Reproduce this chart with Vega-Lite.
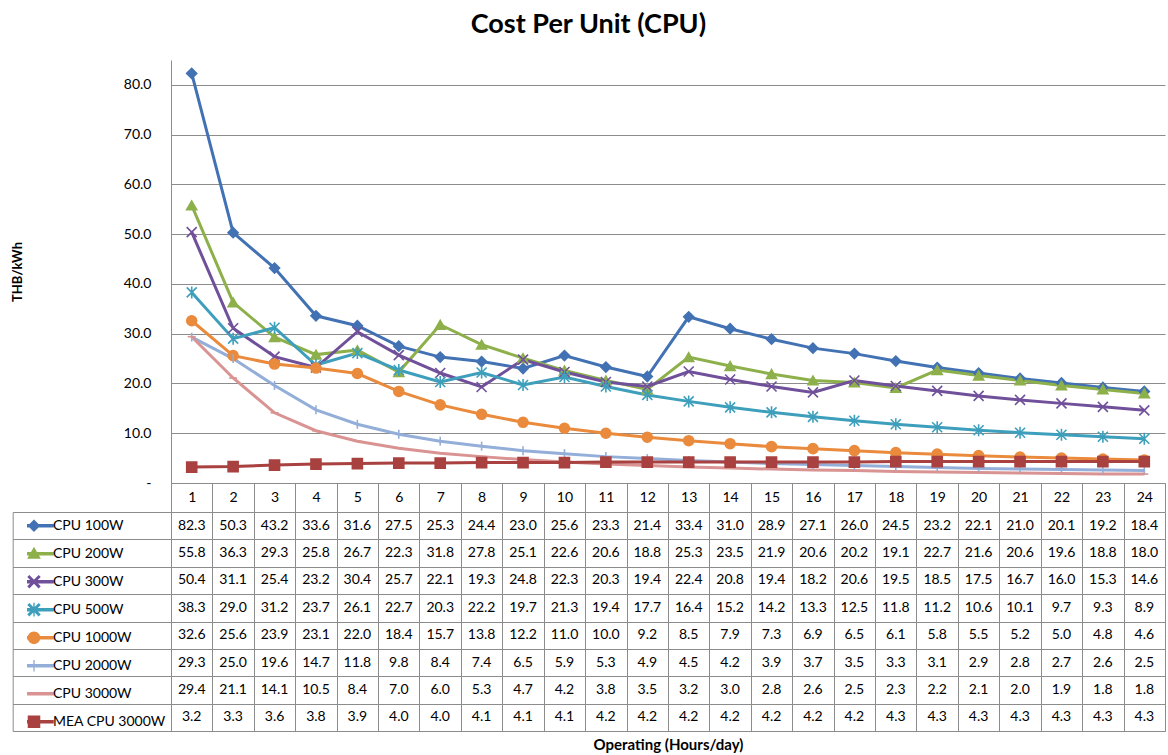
{
"$schema":"https://vega.github.io/schema/vega-lite/v6.json",
"padding":{"left":11,"right":3,"top":11,"bottom":4},
"title":{"text":"Cost Per Unit (CPU)","font":"Lato","fontSize":27,"fontWeight":"bold","color":"#000","anchor":"middle","frame":"bounds","offset":21},
"config":{"font":"Lato","view":{"stroke":null},"axis":{"labelFont":"Lato","titleFont":"Lato","labelColor":"#000","titleColor":"#000"}},
"bounds":"flush",
"spacing":29,
"resolve":{"scale":{"color":"independent","shape":"independent","fill":"independent"}},
"datasets":{"cost":[
{"series":"CPU 100W","hour":1,"value":82.3},{"series":"CPU 100W","hour":2,"value":50.3},{"series":"CPU 100W","hour":3,"value":43.2},{"series":"CPU 100W","hour":4,"value":33.6},{"series":"CPU 100W","hour":5,"value":31.6},{"series":"CPU 100W","hour":6,"value":27.5},{"series":"CPU 100W","hour":7,"value":25.3},{"series":"CPU 100W","hour":8,"value":24.4},{"series":"CPU 100W","hour":9,"value":23.0},{"series":"CPU 100W","hour":10,"value":25.6},{"series":"CPU 100W","hour":11,"value":23.3},{"series":"CPU 100W","hour":12,"value":21.4},{"series":"CPU 100W","hour":13,"value":33.4},{"series":"CPU 100W","hour":14,"value":31.0},{"series":"CPU 100W","hour":15,"value":28.9},{"series":"CPU 100W","hour":16,"value":27.1},{"series":"CPU 100W","hour":17,"value":26.0},{"series":"CPU 100W","hour":18,"value":24.5},{"series":"CPU 100W","hour":19,"value":23.2},{"series":"CPU 100W","hour":20,"value":22.1},{"series":"CPU 100W","hour":21,"value":21.0},{"series":"CPU 100W","hour":22,"value":20.1},{"series":"CPU 100W","hour":23,"value":19.2},{"series":"CPU 100W","hour":24,"value":18.4},
{"series":"CPU 200W","hour":1,"value":55.8},{"series":"CPU 200W","hour":2,"value":36.3},{"series":"CPU 200W","hour":3,"value":29.3},{"series":"CPU 200W","hour":4,"value":25.8},{"series":"CPU 200W","hour":5,"value":26.7},{"series":"CPU 200W","hour":6,"value":22.3},{"series":"CPU 200W","hour":7,"value":31.8},{"series":"CPU 200W","hour":8,"value":27.8},{"series":"CPU 200W","hour":9,"value":25.1},{"series":"CPU 200W","hour":10,"value":22.6},{"series":"CPU 200W","hour":11,"value":20.6},{"series":"CPU 200W","hour":12,"value":18.8},{"series":"CPU 200W","hour":13,"value":25.3},{"series":"CPU 200W","hour":14,"value":23.5},{"series":"CPU 200W","hour":15,"value":21.9},{"series":"CPU 200W","hour":16,"value":20.6},{"series":"CPU 200W","hour":17,"value":20.2},{"series":"CPU 200W","hour":18,"value":19.1},{"series":"CPU 200W","hour":19,"value":22.7},{"series":"CPU 200W","hour":20,"value":21.6},{"series":"CPU 200W","hour":21,"value":20.6},{"series":"CPU 200W","hour":22,"value":19.6},{"series":"CPU 200W","hour":23,"value":18.8},{"series":"CPU 200W","hour":24,"value":18.0},
{"series":"CPU 300W","hour":1,"value":50.4},{"series":"CPU 300W","hour":2,"value":31.1},{"series":"CPU 300W","hour":3,"value":25.4},{"series":"CPU 300W","hour":4,"value":23.2},{"series":"CPU 300W","hour":5,"value":30.4},{"series":"CPU 300W","hour":6,"value":25.7},{"series":"CPU 300W","hour":7,"value":22.1},{"series":"CPU 300W","hour":8,"value":19.3},{"series":"CPU 300W","hour":9,"value":24.8},{"series":"CPU 300W","hour":10,"value":22.3},{"series":"CPU 300W","hour":11,"value":20.3},{"series":"CPU 300W","hour":12,"value":19.4},{"series":"CPU 300W","hour":13,"value":22.4},{"series":"CPU 300W","hour":14,"value":20.8},{"series":"CPU 300W","hour":15,"value":19.4},{"series":"CPU 300W","hour":16,"value":18.2},{"series":"CPU 300W","hour":17,"value":20.6},{"series":"CPU 300W","hour":18,"value":19.5},{"series":"CPU 300W","hour":19,"value":18.5},{"series":"CPU 300W","hour":20,"value":17.5},{"series":"CPU 300W","hour":21,"value":16.7},{"series":"CPU 300W","hour":22,"value":16.0},{"series":"CPU 300W","hour":23,"value":15.3},{"series":"CPU 300W","hour":24,"value":14.6},
{"series":"CPU 500W","hour":1,"value":38.3},{"series":"CPU 500W","hour":2,"value":29.0},{"series":"CPU 500W","hour":3,"value":31.2},{"series":"CPU 500W","hour":4,"value":23.7},{"series":"CPU 500W","hour":5,"value":26.1},{"series":"CPU 500W","hour":6,"value":22.7},{"series":"CPU 500W","hour":7,"value":20.3},{"series":"CPU 500W","hour":8,"value":22.2},{"series":"CPU 500W","hour":9,"value":19.7},{"series":"CPU 500W","hour":10,"value":21.3},{"series":"CPU 500W","hour":11,"value":19.4},{"series":"CPU 500W","hour":12,"value":17.7},{"series":"CPU 500W","hour":13,"value":16.4},{"series":"CPU 500W","hour":14,"value":15.2},{"series":"CPU 500W","hour":15,"value":14.2},{"series":"CPU 500W","hour":16,"value":13.3},{"series":"CPU 500W","hour":17,"value":12.5},{"series":"CPU 500W","hour":18,"value":11.8},{"series":"CPU 500W","hour":19,"value":11.2},{"series":"CPU 500W","hour":20,"value":10.6},{"series":"CPU 500W","hour":21,"value":10.1},{"series":"CPU 500W","hour":22,"value":9.7},{"series":"CPU 500W","hour":23,"value":9.3},{"series":"CPU 500W","hour":24,"value":8.9},
{"series":"CPU 1000W","hour":1,"value":32.6},{"series":"CPU 1000W","hour":2,"value":25.6},{"series":"CPU 1000W","hour":3,"value":23.9},{"series":"CPU 1000W","hour":4,"value":23.1},{"series":"CPU 1000W","hour":5,"value":22.0},{"series":"CPU 1000W","hour":6,"value":18.4},{"series":"CPU 1000W","hour":7,"value":15.7},{"series":"CPU 1000W","hour":8,"value":13.8},{"series":"CPU 1000W","hour":9,"value":12.2},{"series":"CPU 1000W","hour":10,"value":11.0},{"series":"CPU 1000W","hour":11,"value":10.0},{"series":"CPU 1000W","hour":12,"value":9.2},{"series":"CPU 1000W","hour":13,"value":8.5},{"series":"CPU 1000W","hour":14,"value":7.9},{"series":"CPU 1000W","hour":15,"value":7.3},{"series":"CPU 1000W","hour":16,"value":6.9},{"series":"CPU 1000W","hour":17,"value":6.5},{"series":"CPU 1000W","hour":18,"value":6.1},{"series":"CPU 1000W","hour":19,"value":5.8},{"series":"CPU 1000W","hour":20,"value":5.5},{"series":"CPU 1000W","hour":21,"value":5.2},{"series":"CPU 1000W","hour":22,"value":5.0},{"series":"CPU 1000W","hour":23,"value":4.8},{"series":"CPU 1000W","hour":24,"value":4.6},
{"series":"CPU 2000W","hour":1,"value":29.3},{"series":"CPU 2000W","hour":2,"value":25.0},{"series":"CPU 2000W","hour":3,"value":19.6},{"series":"CPU 2000W","hour":4,"value":14.7},{"series":"CPU 2000W","hour":5,"value":11.8},{"series":"CPU 2000W","hour":6,"value":9.8},{"series":"CPU 2000W","hour":7,"value":8.4},{"series":"CPU 2000W","hour":8,"value":7.4},{"series":"CPU 2000W","hour":9,"value":6.5},{"series":"CPU 2000W","hour":10,"value":5.9},{"series":"CPU 2000W","hour":11,"value":5.3},{"series":"CPU 2000W","hour":12,"value":4.9},{"series":"CPU 2000W","hour":13,"value":4.5},{"series":"CPU 2000W","hour":14,"value":4.2},{"series":"CPU 2000W","hour":15,"value":3.9},{"series":"CPU 2000W","hour":16,"value":3.7},{"series":"CPU 2000W","hour":17,"value":3.5},{"series":"CPU 2000W","hour":18,"value":3.3},{"series":"CPU 2000W","hour":19,"value":3.1},{"series":"CPU 2000W","hour":20,"value":2.9},{"series":"CPU 2000W","hour":21,"value":2.8},{"series":"CPU 2000W","hour":22,"value":2.7},{"series":"CPU 2000W","hour":23,"value":2.6},{"series":"CPU 2000W","hour":24,"value":2.5},
{"series":"CPU 3000W","hour":1,"value":29.4},{"series":"CPU 3000W","hour":2,"value":21.1},{"series":"CPU 3000W","hour":3,"value":14.1},{"series":"CPU 3000W","hour":4,"value":10.5},{"series":"CPU 3000W","hour":5,"value":8.4},{"series":"CPU 3000W","hour":6,"value":7.0},{"series":"CPU 3000W","hour":7,"value":6.0},{"series":"CPU 3000W","hour":8,"value":5.3},{"series":"CPU 3000W","hour":9,"value":4.7},{"series":"CPU 3000W","hour":10,"value":4.2},{"series":"CPU 3000W","hour":11,"value":3.8},{"series":"CPU 3000W","hour":12,"value":3.5},{"series":"CPU 3000W","hour":13,"value":3.2},{"series":"CPU 3000W","hour":14,"value":3.0},{"series":"CPU 3000W","hour":15,"value":2.8},{"series":"CPU 3000W","hour":16,"value":2.6},{"series":"CPU 3000W","hour":17,"value":2.5},{"series":"CPU 3000W","hour":18,"value":2.3},{"series":"CPU 3000W","hour":19,"value":2.2},{"series":"CPU 3000W","hour":20,"value":2.1},{"series":"CPU 3000W","hour":21,"value":2.0},{"series":"CPU 3000W","hour":22,"value":1.9},{"series":"CPU 3000W","hour":23,"value":1.8},{"series":"CPU 3000W","hour":24,"value":1.8},
{"series":"MEA CPU 3000W","hour":1,"value":3.2},{"series":"MEA CPU 3000W","hour":2,"value":3.3},{"series":"MEA CPU 3000W","hour":3,"value":3.6},{"series":"MEA CPU 3000W","hour":4,"value":3.8},{"series":"MEA CPU 3000W","hour":5,"value":3.9},{"series":"MEA CPU 3000W","hour":6,"value":4.0},{"series":"MEA CPU 3000W","hour":7,"value":4.0},{"series":"MEA CPU 3000W","hour":8,"value":4.1},{"series":"MEA CPU 3000W","hour":9,"value":4.1},{"series":"MEA CPU 3000W","hour":10,"value":4.1},{"series":"MEA CPU 3000W","hour":11,"value":4.2},{"series":"MEA CPU 3000W","hour":12,"value":4.2},{"series":"MEA CPU 3000W","hour":13,"value":4.2},{"series":"MEA CPU 3000W","hour":14,"value":4.2},{"series":"MEA CPU 3000W","hour":15,"value":4.2},{"series":"MEA CPU 3000W","hour":16,"value":4.2},{"series":"MEA CPU 3000W","hour":17,"value":4.2},{"series":"MEA CPU 3000W","hour":18,"value":4.3},{"series":"MEA CPU 3000W","hour":19,"value":4.3},{"series":"MEA CPU 3000W","hour":20,"value":4.3},{"series":"MEA CPU 3000W","hour":21,"value":4.3},{"series":"MEA CPU 3000W","hour":22,"value":4.3},{"series":"MEA CPU 3000W","hour":23,"value":4.3},{"series":"MEA CPU 3000W","hour":24,"value":4.3}
]},
"vconcat":[
{
"width":994,"height":423,
"data":{"name":"cost"},
"encoding":{
"x":{"field":"hour","type":"ordinal","bandPosition":0.5,"scale":{"type":"band","paddingInner":0,"paddingOuter":0},
"axis":{"title":null,"orient":"bottom","labelAngle":0,"tickBand":"extent","tickSize":29,"tickColor":"#8c8c8c","domainColor":"#8c8c8c","labelFontSize":14,"labelBaseline":"middle","labelPadding":-14.5,"grid":false}},
"y":{"field":"value","type":"quantitative","scale":{"domain":[0,85],"nice":false,"zero":true},
"axis":{"title":"THB/kWh","titleFontSize":13,"titleFontWeight":"bold","titlePadding":99,"values":[0,10,20,30,40,50,60,70,80],"labelExpr":"datum.value == 0 ? '-\u00a0\u00a0' : format(datum.value, '.1f')","labelFontSize":14,"labelPadding":20,"ticks":false,"grid":true,"gridColor":"#8c8c8c","domainColor":"#8c8c8c"}}
},
"layer":[
{"mark":{"type":"line","strokeWidth":3,"interpolate":"linear"},
"encoding":{"color":{"field":"series","type":"nominal","legend":null,"scale":{"domain":["CPU 100W","CPU 200W","CPU 300W","CPU 500W","CPU 1000W","CPU 2000W","CPU 3000W","MEA CPU 3000W"],"range":["#4272B3","#8DB04B","#70509A","#3D9FBB","#EA8A3C","#93AED8","#D99392","#A8413F"]}},
"order":{"field":"hour"}}},
{"mark":{"type":"point","filled":false,"opacity":1,"strokeWidth":1.6,"size":100},
"encoding":{
"color":{"field":"series","type":"nominal","legend":null,"scale":{"domain":["CPU 100W","CPU 200W","CPU 300W","CPU 500W","CPU 1000W","CPU 2000W","CPU 3000W","MEA CPU 3000W"],"range":["#4272B3","#8DB04B","#70509A","#3D9FBB","#EA8A3C","#93AED8","#D99392","#A8413F"]}},
"fill":{"field":"series","type":"nominal","legend":null,"scale":{"domain":["CPU 100W","CPU 200W","CPU 300W","CPU 500W","CPU 1000W","CPU 2000W","CPU 3000W","MEA CPU 3000W"],"range":["#4272B3","#8DB04B","#70509A","#3D9FBB","#EA8A3C","#93AED8","#D99392","#A8413F"]}},
"shape":{"field":"series","type":"nominal","legend":null,"scale":{"domain":["CPU 100W","CPU 200W","CPU 300W","CPU 500W","CPU 1000W","CPU 2000W","CPU 3000W","MEA CPU 3000W"],"range":["diamond","triangle-up","M-1,-1L1,1M-1,1L1,-1","M-1,-1L1,1M-1,1L1,-1M0,-1.2L0,1.2","circle","M0,-0.9L0,0.9","M-0.8,0L0.8,0","square"]}}
}}
]
},
{
"width":994,"height":219,
"data":{"name":"cost"},
"resolve":{"axis":{"y":"independent"}},
"encoding":{
"x":{"field":"hour","type":"ordinal","scale":{"type":"band","paddingInner":0,"paddingOuter":0},
"axis":{"orient":"bottom","title":"Operating (Hours/day)","titleFontSize":15,"titleFontWeight":"bold","titlePadding":6,"labels":false,"ticks":false,"domain":true,"domainColor":"#8c8c8c","grid":true,"gridColor":"#8c8c8c","tickBand":"extent"}}
},
"layer":[
{"mark":{"type":"text","font":"Lato","fontSize":14,"color":"#000","align":"center","baseline":"middle"},
"encoding":{
"y":{"field":"series","type":"nominal","sort":["CPU 100W","CPU 200W","CPU 300W","CPU 500W","CPU 1000W","CPU 2000W","CPU 3000W","MEA CPU 3000W"],"scale":{"type":"band","paddingInner":0,"paddingOuter":0},
"axis":{"orient":"left","title":null,"labels":false,"ticks":true,"tickBand":"extent","tickSize":158.3,"tickColor":"#8c8c8c","domain":true,"domainColor":"#8c8c8c","grid":true,"gridColor":"#8c8c8c"}},
"text":{"field":"value","type":"quantitative","format":".1f"}}},
{"mark":{"type":"point","filled":true,"opacity":0,"size":100},
"encoding":{
"y":{"field":"series","type":"nominal","sort":["CPU 100W","CPU 200W","CPU 300W","CPU 500W","CPU 1000W","CPU 2000W","CPU 3000W","MEA CPU 3000W"],"scale":{"type":"band","paddingInner":0,"paddingOuter":0},
"axis":{"orient":"left","offset":158.3,"title":null,"labels":false,"ticks":false,"grid":false,"domain":true,"domainColor":"#8c8c8c"}},
"color":{"field":"series","type":"nominal","scale":{"domain":["CPU 100W","CPU 200W","CPU 300W","CPU 500W","CPU 1000W","CPU 2000W","CPU 3000W","MEA CPU 3000W"],"range":["#4272B3","#8DB04B","#70509A","#3D9FBB","#EA8A3C","#93AED8","#D99392","#A8413F"]},
"legend":{"orient":"none","legendX":-144,"legendY":0,"title":null,"padding":0,"clipHeight":27.375,"rowPadding":0,"symbolSize":130,"symbolStrokeWidth":0,"symbolOpacity":1,"labelFont":"Lato","labelFontSize":14,"labelColor":"#000","labelOffset":12,"labelLimit":200}},
"shape":{"field":"series","type":"nominal","scale":{"domain":["CPU 100W","CPU 200W","CPU 300W","CPU 500W","CPU 1000W","CPU 2000W","CPU 3000W","MEA CPU 3000W"],"range":[
"M-3.47,-0.3L3.47,-0.3L3.47,0.3L-3.47,0.3ZM0,-1.1L1.1,0L0,1.1L-1.1,0Z",
"M-3.47,-0.3L3.47,-0.3L3.47,0.3L-3.47,0.3ZM0,-1.2L1.2,0.9L-1.2,0.9Z",
"M-3.47,-0.3L3.47,-0.3L3.47,0.3L-3.47,0.3ZM-1.18,-0.82L-0.82,-1.18L1.18,0.82L0.82,1.18ZM-1.18,0.82L0.82,-1.18L1.18,-0.82L-0.82,1.18Z",
"M-3.47,-0.3L3.47,-0.3L3.47,0.3L-3.47,0.3ZM-1.18,-0.82L-0.82,-1.18L1.18,0.82L0.82,1.18ZM-1.18,0.82L0.82,-1.18L1.18,-0.82L-0.82,1.18ZM-0.12,-1.2L0.12,-1.2L0.12,1.2L-0.12,1.2Z",
"M-3.47,-0.3L3.47,-0.3L3.47,0.3L-3.47,0.3ZM-1.1,0A1.1,1.1,0,1,1,1.1,0A1.1,1.1,0,1,1,-1.1,0Z",
"M-3.47,-0.3L3.47,-0.3L3.47,0.3L-3.47,0.3ZM-0.12,-1L0.12,-1L0.12,1L-0.12,1Z",
"M-3.47,-0.3L3.47,-0.3L3.47,0.3L-3.47,0.3Z",
"M-3.47,-0.3L3.47,-0.3L3.47,0.3L-3.47,0.3ZM-1.1,-1.1L1.1,-1.1L1.1,1.1L-1.1,1.1Z"]},
"legend":{"orient":"none","legendX":-144,"legendY":0,"title":null,"padding":0,"clipHeight":27.375,"rowPadding":0,"symbolSize":130,"symbolStrokeWidth":0,"symbolOpacity":1,"labelFont":"Lato","labelFontSize":14,"labelColor":"#000","labelOffset":12,"labelLimit":200}}
}}
]
}
]
}
